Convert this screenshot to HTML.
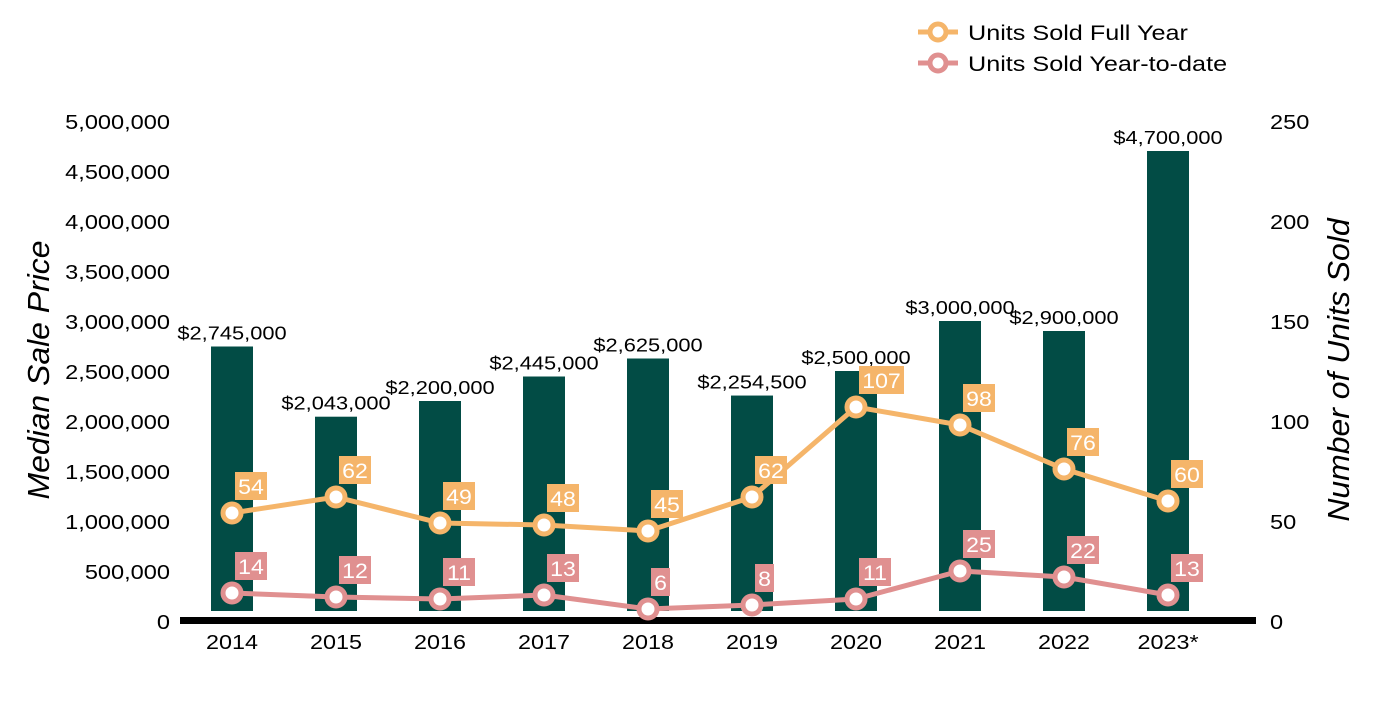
<!DOCTYPE html>
<html><head><meta charset="utf-8"><style>
body{margin:0;background:#fff;}
svg text{font-family:"Liberation Sans",Arial,sans-serif;}
</style></head><body>
<svg id="chart" width="1400" height="700" viewBox="0 0 1400 700" xmlns="http://www.w3.org/2000/svg"></svg>
<script>
const years=["2014","2015","2016","2017","2018","2019","2020","2021","2022","2023*"];
const prices=[2745000,2043000,2200000,2445000,2625000,2254500,2500000,3000000,2900000,4700000];
const priceLabels=["$2,745,000","$2,043,000","$2,200,000","$2,445,000","$2,625,000","$2,254,500","$2,500,000","$3,000,000","$2,900,000","$4,700,000"];
const fullYear=[54,62,49,48,45,62,107,98,76,60];
const ytd=[14,12,11,13,6,8,11,25,22,13];
const leftTicks=[0,500000,1000000,1500000,2000000,2500000,3000000,3500000,4000000,4500000,5000000];
const rightTicks=[0,50,100,150,200,250];

const svg=document.getElementById('chart');
const NS='http://www.w3.org/2000/svg';
const y0=621,yTop=121;
const yL=v=>y0-(v/5000000)*(y0-yTop);
const yR=v=>y0-(v/250)*(y0-yTop);
const xC=i=>232+i*104;
function mk(tag,attrs,txt){const e=document.createElementNS(NS,tag);for(const k in attrs)e.setAttribute(k,attrs[k]);if(txt!==undefined)e.textContent=txt;svg.appendChild(e);return e;}
function st(x,y,sx,size,anchor,txt,fill){return mk('text',{x:0,y:0,transform:'translate('+x+','+y+') scale('+sx+',1)','font-size':size,'text-anchor':anchor,fill:fill||'#000'},txt);}

leftTicks.forEach(t=>{
  const e=st(170,yL(t)+8,1.15,20.5,'end',t.toLocaleString('en-US'));
  
  
});
rightTicks.forEach(t=>{
  const e=st(1270,yR(t)+8,1.15,20.5,'start',String(t));
  
  
});
let t1=mk('text',{x:0,y:0,'font-size':31,'font-style':'italic',fill:'#000','text-anchor':'middle',transform:'translate(49,370) rotate(-90) scale(1.03,1)'},'Median Sale Price');

let t2=mk('text',{x:0,y:0,'font-size':31,'font-style':'italic',fill:'#000','text-anchor':'middle',transform:'translate(1349,370) rotate(-90) scale(1.03,1)'},'Number of Units Sold');


prices.forEach((p,i)=>{
  const top=yL(p);
  const b=mk('rect',{x:xC(i)-21,y:top,width:42,height:611-top,fill:'#024c45'});
  
  
  const l=st(xC(i),top-7,1.18,18.5,'middle',priceLabels[i]);
  
  
});
const axis=mk('rect',{x:180,y:617,width:1076,height:7,fill:'#000'});

years.forEach((y,i)=>{
  const e=st(xC(i),649,1.14,20.5,'middle',y);
  
  
});

function series(vals,color,name){
  const pts=vals.map((v,i)=>xC(i)+','+yR(v)).join(' ');
  const pl=mk('polyline',{points:pts,fill:'none',stroke:color,'stroke-width':5});
  
  
  vals.forEach((v,i)=>{
    const c=mk('circle',{cx:xC(i),cy:yR(v),r:9,fill:'#fff',stroke:color,'stroke-width':5});
    
    
    const s=String(v);const w=s.length*13+6;
    const r=mk('rect',{x:xC(i)+3,y:yR(v)-41,width:w,height:28,fill:color});
    
    
    const t=st(xC(i)+3+w/2,yR(v)-19,1.1,21,'middle',s,'#fff');
    
    
  });
}
series(fullYear,'#f5b56a','units-full-year');
series(ytd,'#e09090','units-ytd');

function legend(y,color,label){
  const l=mk('line',{x1:918,y1:y,x2:958,y2:y,stroke:color,'stroke-width':5});
  
  const c=mk('circle',{cx:938,cy:y,r:8,fill:'#fff',stroke:color,'stroke-width':5});
  
  const t=st(968,y+8,1.2,21,'start',label);
  
}
legend(32,'#f5b56a','Units Sold Full Year');
legend(63,'#e09090','Units Sold Year-to-date');
</script>
</body></html>
